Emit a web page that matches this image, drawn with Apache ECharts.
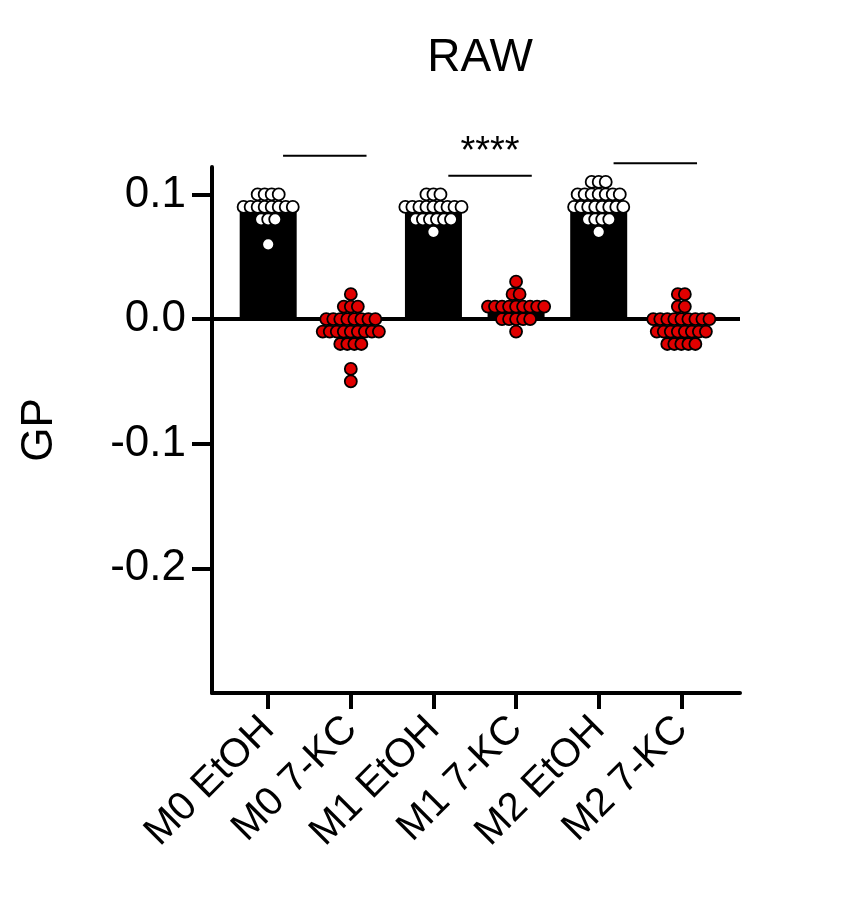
<!DOCTYPE html>
<html>
<head>
<meta charset="utf-8">
<script src="https://cdn.jsdelivr.net/npm/echarts@6/dist/echarts.min.js"></script>
<style>html,body{margin:0;padding:0;background:#fff}#chart{width:858px;height:914px}</style>
</head>
<body>
<div id="chart"></div>
<script>
var categories = ['M0 EtOH', 'M0 7-KC', 'M1 EtOH', 'M1 7-KC', 'M2 EtOH', 'M2 7-KC'];
var means = [0.092, -0.003, 0.090, 0.010, 0.092, -0.002];
var yTicks = [-0.2, -0.1, 0.0, 0.1];
// individual GP values per group
var m0EtOH = [0.10,0.10,0.10,0.10, 0.09,0.09,0.09,0.09,0.09,0.09,0.09,0.09, 0.08,0.08,0.08, 0.06];
var m07KC = [0.02, 0.01,0.01,0.01, 0,0,0,0,0,0,0,0, -0.01,-0.01,-0.01,-0.01,-0.01,-0.01,-0.01,-0.01,-0.01, -0.02,-0.02,-0.02,-0.02, -0.04, -0.05];
var m1EtOH = [0.10,0.10,0.10, 0.09,0.09,0.09,0.09,0.09,0.09,0.09,0.09,0.09, 0.08,0.08,0.08,0.08,0.08,0.08, 0.07];
var m17KC = [0.03, 0.02,0.02, 0.01,0.01,0.01,0.01,0.01,0.01,0.01,0.01,0.01, 0,0,0,0,0, -0.01];
var m2EtOH = [0.11,0.11,0.11, 0.10,0.10,0.10,0.10,0.10,0.10,0.10, 0.09,0.09,0.09,0.09,0.09,0.09,0.09,0.09, 0.08,0.08,0.08,0.08, 0.07];
var m27KC = [0.02,0.02, 0.01,0.01, 0,0,0,0,0,0,0,0,0, -0.01,-0.01,-0.01,-0.01,-0.01,-0.01,-0.01,-0.01, -0.02,-0.02,-0.02,-0.02,-0.02];
var groups = [m0EtOH, m07KC, m1EtOH, m17KC, m2EtOH, m27KC];
var comparisons = [[0, 1, 0.131], [2, 3, 0.115], [4, 5, 0.125]];

// beeswarm-like spread: points with same value sit side by side
function swarm(vals, idx) {
    var counts = {}, seen = {}, out = [];
    vals.forEach(function (v) { counts[v] = (counts[v] || 0) + 1; });
    vals.forEach(function (v) {
        var k = seen[v] || 0; seen[v] = k + 1;
        out.push([idx + (k - (counts[v] - 1) / 2) * 0.085, v]);
    });
    return out;
}

var series = [{
    type: 'bar',
    data: means.map(function (m, i) { return [i, m]; }),
    barWidth: 57,
    itemStyle: { color: '#000' },
    markLine: {
        symbol: 'none', silent: true, animation: false,
        lineStyle: { color: '#000', width: 4, type: 'solid' },
        label: { show: false },
        data: [{ yAxis: 0 }]
    }
}];
comparisons.forEach(function (c) {
    series.push({
        type: 'line',
        clip: false,
        symbol: 'none',
        silent: true,
        lineStyle: { color: '#000', width: 2 },
        data: [[c[0] + 0.18, c[2]], [c[1] + 0.19, c[2]]],
        markPoint: {
            symbol: 'circle', symbolSize: 1, itemStyle: { color: 'transparent' },
            label: { show: true, position: 'top', distance: 4, formatter: '****', color: '#000', fontSize: 38, fontFamily: 'Liberation Sans' },
            data: [{ coord: [(c[0] + c[1]) / 2 + 0.185, c[2]] }]
        }
    });
});
groups.forEach(function (g, i) {
    var red = i % 2 === 1;
    series.push({
        type: 'scatter',
        data: swarm(g, i),
        symbolSize: 12,
        z: 5,
        itemStyle: { color: red ? '#e00000' : '#fff', borderColor: '#000', borderWidth: 1.8, opacity: 1 }
    });
});

var chart = echarts.init(document.getElementById('chart'));
chart.setOption({
    animation: false,
    title: { text: 'RAW', left: 475, top: 30, textAlign: 'center', textStyle: { fontSize: 46, fontWeight: 'normal', color: '#000', fontFamily: 'Liberation Sans' } },
    grid: { left: 212, right: 118, top: 167, bottom: 221 },
    xAxis: {
        type: 'value', min: -0.68, max: 5.71,
        splitLine: { show: false },
        axisLine: { show: true, onZero: false, lineStyle: { color: '#000', width: 4 } },
        axisTick: { show: true, customValues: [0, 1, 2, 3, 4, 5], length: 16, lineStyle: { color: '#000', width: 4 } },
        axisLabel: {
            customValues: [0, 1, 2, 3, 4, 5], rotate: 45, margin: 30,
            formatter: function (v) { return categories[Math.round(v)]; },
            color: '#000', fontSize: 40, fontFamily: 'Liberation Sans'
        }
    },
    yAxis: {
        type: 'value', min: -0.3, max: 0.122,
        name: 'GP', nameLocation: 'middle', nameGap: 150, nameRotate: 90,
        nameTextStyle: { fontSize: 44, color: '#000', fontFamily: 'Liberation Sans' },
        splitLine: { show: false },
        axisLine: { show: true, onZero: false, lineStyle: { color: '#000', width: 4 } },
        axisTick: { show: true, customValues: yTicks, length: 20, lineStyle: { color: '#000', width: 4 } },
        axisLabel: {
            customValues: yTicks, margin: 26,
            formatter: function (v) { return v.toFixed(1); },
            color: '#000', fontSize: 44, fontFamily: 'Liberation Sans'
        }
    },
    series: series
});
</script>
</body>
</html>
